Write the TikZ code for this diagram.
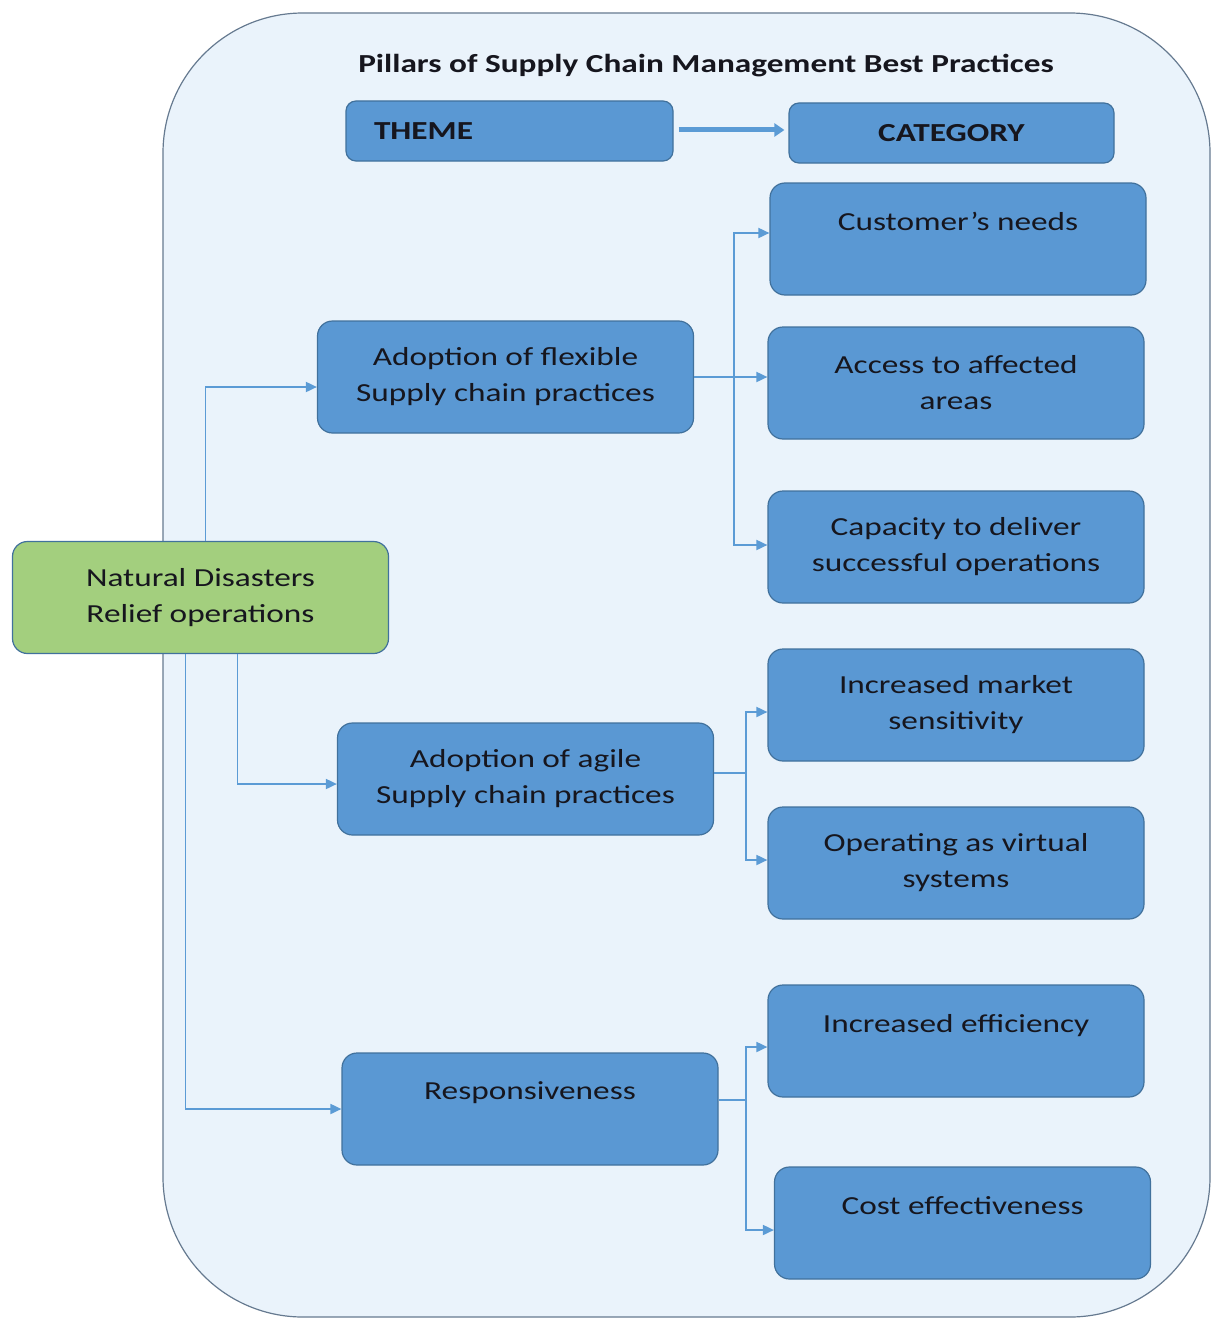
\documentclass[tikz,border=0pt]{standalone}
\usepackage{fontspec}
\setmainfont[FakeStretch=1.28]{Carlito}
\usetikzlibrary{arrows.meta}
\definecolor{panel}{HTML}{EAF3FB}
\definecolor{panelline}{HTML}{667A90}
\definecolor{boxblue}{HTML}{5A98D3}
\definecolor{boxedge}{HTML}{41719C}
\definecolor{boxgreen}{HTML}{A3CF7E}
\definecolor{link}{HTML}{5B9BD5}
\definecolor{ink}{HTML}{16161E}
\begin{document}
\begin{tikzpicture}[x=1pt,y=-1pt,
  card/.style={draw=boxedge, line width=1.2pt, fill=boxblue, rounded corners=15pt,
    minimum width=376pt, minimum height=112pt, align=center, text=ink,
    font=\fontsize{26}{36}\selectfont, inner sep=0pt},
  greencard/.style={card, fill=boxgreen},
  headbox/.style={draw=boxedge, line width=1.2pt, fill=boxblue, rounded corners=10pt,
    minimum height=60pt, text=ink, font=\bfseries\fontsize{26}{30}\selectfont, inner ysep=0pt},
  conn/.style={draw=link, line width=1.8pt},
  arr/.style={conn, -{Triangle[length=11pt,width=10pt]}},
]
\useasboundingbox (0,0) rectangle (1211,1319);
\fill[white] (0,0) rectangle (1211,1319);

% outer panel
\draw[panelline, line width=1.2pt, fill=panel, rounded corners=140pt] (163,13) rectangle (1210,1317);

% title and header row
\node[text=ink, font=\bfseries\fontsize{26}{30}\selectfont] (title) at (706,66)
  {Pillars of Supply Chain Management Best Practices};
\node[headbox, text width=271pt, align=left, inner xsep=28pt] (theme) at (509.5,131) {THEME};
\node[headbox, minimum width=325pt, align=center] (cat) at (951.5,133) {CATEGORY};
\draw[draw=link, line width=5pt, -{Triangle[length=10pt,width=13pt]}]
  ([xshift=5pt,yshift=1pt]theme.east) -- ([xshift=-4pt,yshift=1pt]theme.east -| cat.west);

% themes
\node[greencard] (green) at (200.5,597.5) {Natural Disasters\\Relief operations};
\node[card] (flex) at (505.5,377) {Adoption of flexible\\Supply chain practices};
\node[card] (agile) at (525.5,779) {Adoption of agile\\Supply chain practices};
\node[card] (resp) at (530,1109) {Responsiveness\\[0pt]\mbox{}};

% categories
\node[card] (cust) at (958,239) {Customer’s needs\\[0pt]\mbox{}};
\node[card] (access) at (956,383) {Access to affected\\areas};
\node[card] (capacity) at (956,547) {Capacity to deliver\\successful operations};
\node[card] (market) at (956,705) {Increased market\\sensitivity};
\node[card] (virtual) at (956,863) {Operating as virtual\\systems};
\node[card] (effic) at (956,1041) {Increased efficiency\\[0pt]\mbox{}};
\node[card] (cost) at (962.5,1223) {Cost effectiveness\\[0pt]\mbox{}};

% links from the central theme
\draw[arr] ([xshift=5pt]green.north) |- ([yshift=-10pt]flex.west);
\draw[arr] ([xshift=37pt]green.south) |- ([yshift=-5pt]agile.west);
\draw[arr] ([xshift=-15pt]green.south) |- (resp.west);

% flexible practices
\draw[conn] (flex.east) -- ++(40,0) coordinate (fj);
\draw[arr] (fj) |- ([yshift=6pt]cust.west);
\draw[arr] (fj) -- (fj -| access.west);
\draw[arr] (fj) |- ([yshift=2pt]capacity.west);

% agile practices
\draw[conn] ([yshift=6pt]agile.east) -- ++(32,0) coordinate (aj);
\draw[arr] (aj) |- ([yshift=-7pt]market.west);
\draw[arr] (aj) |- ([yshift=3pt]virtual.west);

% responsiveness
\draw[conn] ([yshift=9pt]resp.east) -- ++(27,0) coordinate (rj);
\draw[arr] (rj) |- ([yshift=-6pt]effic.west);
\draw[arr] (rj) |- ([yshift=-7pt]cost.west);
\end{tikzpicture}
\end{document}
